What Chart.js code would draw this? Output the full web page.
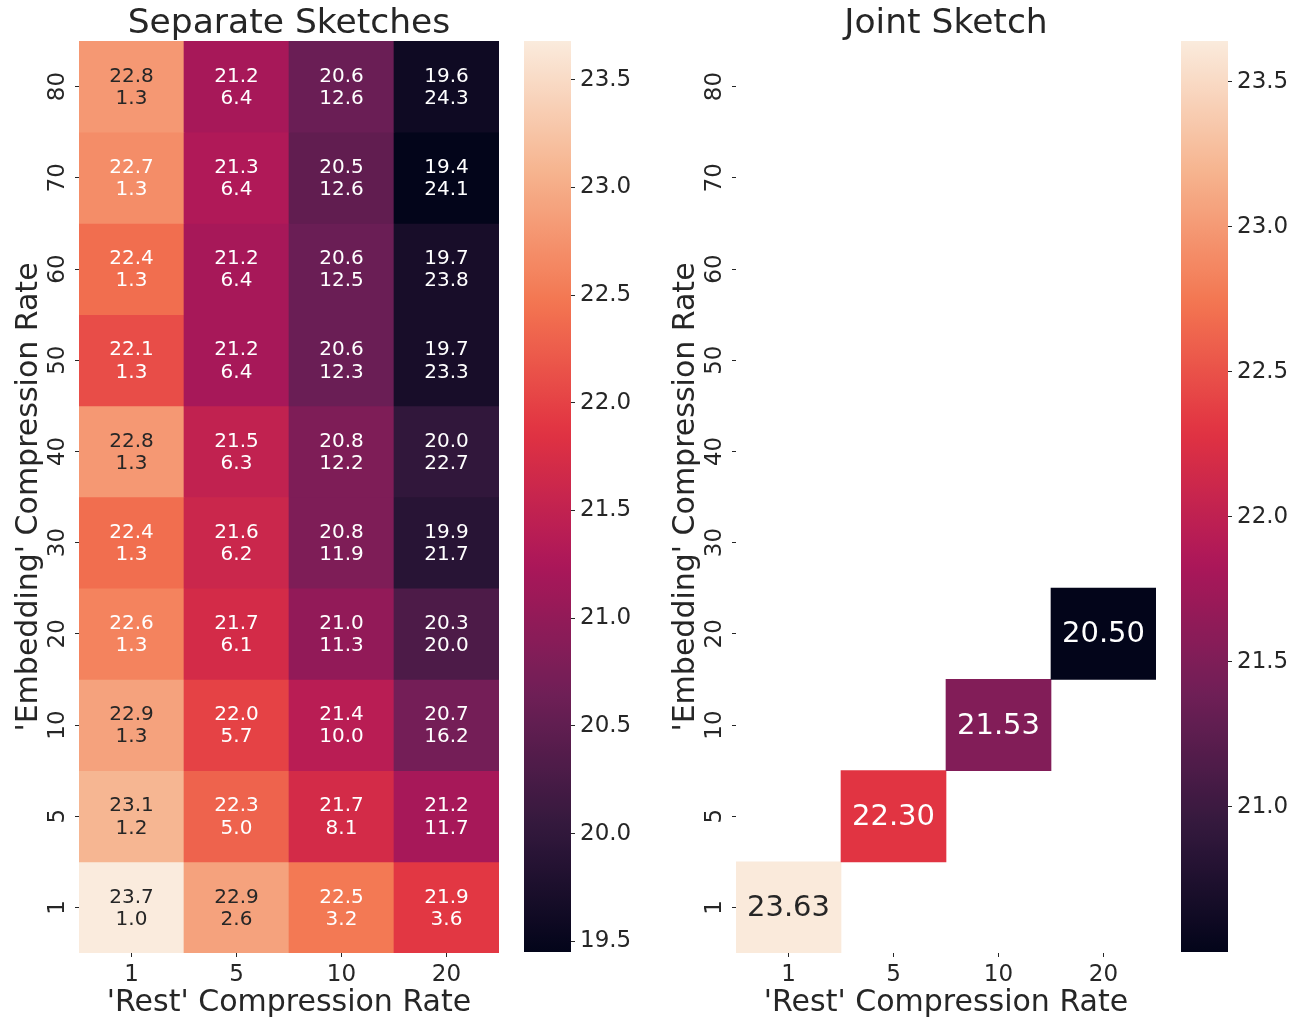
<!DOCTYPE html>
<html><head><meta charset="utf-8">
<script src="https://cdn.jsdelivr.net/npm/chart.js@4.4.1/dist/chart.umd.min.js"></script>
<style>
html,body{margin:0;padding:0;background:#fff;}
body{width:1304px;height:1021px;position:relative;overflow:hidden;}
.box{position:absolute;top:0;}
canvas{display:block;}
</style></head><body>
<div class="box" style="left:0;width:520px;height:1021px"><canvas id="sep" width="520" height="1021"></canvas></div>
<div class="box" style="left:524px;width:120px;height:1021px"><canvas id="sepBar" width="120" height="1021"></canvas></div>
<div class="box" style="left:657px;width:520px;height:1021px"><canvas id="joint" width="520" height="1021"></canvas></div>
<div class="box" style="left:1181px;width:120px;height:1021px"><canvas id="jointBar" width="120" height="1021"></canvas></div>
<script>
// ---------------- data ----------------
const embRates = ['80','70','60','50','40','30','20','10','5','1'];   // rows, top to bottom
const restRates = ['1','5','10','20'];                                   // columns
const sepScore = [
  [22.8, 21.2, 20.6, 19.6],
  [22.7, 21.3, 20.5, 19.4],
  [22.4, 21.2, 20.6, 19.7],
  [22.1, 21.2, 20.6, 19.7],
  [22.8, 21.5, 20.8, 20.0],
  [22.4, 21.6, 20.8, 19.9],
  [22.6, 21.7, 21.0, 20.3],
  [22.9, 22.0, 21.4, 20.7],
  [23.1, 22.3, 21.7, 21.2],
  [23.7, 22.9, 22.5, 21.9]
];
const sepSize = [
  [1.3, 6.4, 12.6, 24.3],
  [1.3, 6.4, 12.6, 24.1],
  [1.3, 6.4, 12.5, 23.8],
  [1.3, 6.4, 12.3, 23.3],
  [1.3, 6.3, 12.2, 22.7],
  [1.3, 6.2, 11.9, 21.7],
  [1.3, 6.1, 11.3, 20.0],
  [1.3, 5.7, 10.0, 16.2],
  [1.2, 5.0, 8.1, 11.7],
  [1.0, 2.6, 3.2, 3.6]
];
const jointScore = [
  [null, null, null, null],
  [null, null, null, null],
  [null, null, null, null],
  [null, null, null, null],
  [null, null, null, null],
  [null, null, null, null],
  [null, null, null, 20.50],
  [null, null, 21.53, null],
  [null, 22.30, null, null],
  [23.63, null, null, null]
];
const sepRange = [19.45, 23.68];
const jointRange = [20.50, 23.64];
const titles = ['Separate Sketches', 'Joint Sketch'];
const xTitle = "'Rest' Compression Rate";
const yTitle = "'Embedding' Compression Rate";

// ---------------- style ----------------
const FONT = '"DejaVu Sans", "Liberation Sans", sans-serif';
const TXT = '#262626';
const rocketStops = ['#03051A','#35193E','#701F57','#AD1759','#E13342','#F37651','#F6B48F','#FAEBDD'];
const stopRGB = rocketStops.map(h => [1,3,5].map(k => parseInt(h.substr(k,2),16)));
function rocketRGB(t) {
  t = Math.max(0, Math.min(1, t));
  const p = t * (stopRGB.length - 1);
  const i = Math.min(Math.floor(p), stopRGB.length - 2);
  const f = p - i;
  return stopRGB[i].map((c, k) => Math.round(c + (stopRGB[i+1][k] - c) * f));
}
function rgbStr(c) { return `rgb(${c[0]},${c[1]},${c[2]})`; }
function lum(c) {
  const l = c.map(v => { v /= 255; return v <= 0.03928 ? v / 12.92 : Math.pow((v + 0.055) / 1.055, 2.4); });
  return 0.2126*l[0] + 0.7152*l[1] + 0.0722*l[2];
}

function makeAnnot(scores, second, range, size, decimals) {
  return {
    id: 'annot',
    afterDatasetsDraw(chart) {
      const {ctx, scales: {x, y}} = chart;
      const n = scores.length;
      ctx.save();
      ctx.font = `${size}px ${FONT}`;
      ctx.textAlign = 'center';
      ctx.textBaseline = 'alphabetic';
      const cap = 0.729 * size;
      scores.forEach((row, i) => row.forEach((v, j) => {
        if (v == null) return;
        const c = rocketRGB((v - range[0]) / (range[1] - range[0]));
        ctx.fillStyle = lum(c) > 0.408 ? TXT : '#ffffff';
        const cx = x.getPixelForValue(j);
        const cy = y.getPixelForValue(n - 1 - i + 0.5);
        if (second) {
          const sp = size * 1.115;
          ctx.fillText(v.toFixed(decimals), cx, cy - sp / 2 + cap / 2 - 1);
          ctx.fillText(second[i][j].toFixed(1), cx, cy + sp / 2 + cap / 2 - 1);
        } else {
          ctx.fillText(v.toFixed(decimals), cx, cy + cap / 2 - 2);
        }
      }));
      ctx.restore();
    }
  };
}

function heatmap(id, title, scores, second, range, annotSize, decimals) {
  const n = embRates.length;
  const datasets = scores.map((row, i) => ({
    label: embRates[i],
    data: row.map(v => v == null ? null : [n - 1 - i, n - i]),
    backgroundColor: row.map(v => v == null ? 'rgba(0,0,0,0)' : rgbStr(rocketRGB((v - range[0]) / (range[1] - range[0])))),
    borderWidth: 0,
    barPercentage: 1,
    categoryPercentage: 1,
    grouped: false
  }));
  return new Chart(document.getElementById(id), {
    type: 'bar',
    data: {labels: restRates, datasets},
    options: {
      responsive: false, animation: false, devicePixelRatio: 1,
      layout: {padding: {left: 0, right: 21, top: 0, bottom: 0}},
      plugins: {
        legend: {display: false}, tooltip: {enabled: false},
        title: {display: true, text: title, fullSize: false, color: TXT,
                font: {family: FONT, size: 34.5, weight: 'normal', lineHeight: 33 / 34.5}, padding: {top: 8, bottom: 0}}
      },
      scales: {
        x: {
          type: 'category', offset: true,
          grid: {display: true, drawOnChartArea: false, offset: false, tickLength: 4, tickColor: TXT, tickWidth: 1},
          border: {display: false},
          ticks: {color: TXT, font: {family: FONT, size: 23}, padding: 4, maxRotation: 0, minRotation: 0},
          title: {display: true, text: xTitle, color: TXT, font: {family: FONT, size: 30}, padding: {top: 0, bottom: 0}},
          afterFit(s) { s.height = 68; }
        },
        y: {
          type: 'linear', min: 0, max: n,
          afterBuildTicks(s) { s.ticks = embRates.map((_, k) => ({value: k + 0.5})); },
          grid: {display: true, drawOnChartArea: false, tickLength: 4, tickColor: TXT, tickWidth: 1},
          border: {display: false},
          ticks: {color: TXT, font: {family: FONT, size: 23}, padding: 2, minRotation: 90, maxRotation: 90,
                  crossAlign: 'center', callback: (v) => embRates[n - 1 - Math.floor(v)]},
          title: {display: true, text: yTitle, color: TXT, font: {family: FONT, size: 30}, padding: {top: 11, bottom: 0}},
          afterFit(s) { s.width = 79; }
        }
      }
    },
    plugins: [makeAnnot(scores, second, range, annotSize, decimals)]
  });
}

function colorbar(id, range) {
  return new Chart(document.getElementById(id), {
    type: 'bar',
    data: {labels: [''], datasets: [{
      data: [[range[0], range[1]]],
      borderWidth: 0, barPercentage: 1, categoryPercentage: 1,
      backgroundColor(ctx) {
        const chart = ctx.chart;
        const ys = chart.scales.y;
        if (!ys || !chart.chartArea) return '#000';
        const y0 = ys.getPixelForValue(range[0]), y1 = ys.getPixelForValue(range[1]);
        const g = chart.ctx.createLinearGradient(0, y0, 0, y1);
        for (let k = 0; k <= 64; k++) g.addColorStop(k / 64, rgbStr(rocketRGB(k / 64)));
        return g;
      }
    }]},
    options: {
      responsive: false, animation: false, devicePixelRatio: 1,
      layout: {padding: {left: 0, right: 0, top: 41, bottom: 69}},
      plugins: {legend: {display: false}, tooltip: {enabled: false}},
      scales: {
        x: {display: false, offset: true},
        y: {
          type: 'linear', position: 'right', min: range[0], max: range[1],
          afterBuildTicks(s) { s.ticks = s.ticks.filter(t => t.value > range[0] + 1e-6 && t.value < range[1] - 1e-6); },
          grid: {display: true, drawOnChartArea: false, tickLength: 4, tickColor: TXT, tickWidth: 1},
          border: {display: false},
          ticks: {stepSize: 0.5, includeBounds: false, color: TXT, font: {family: FONT, size: 23}, padding: 5,
                  callback: (v) => Number(v).toFixed(1)},
          afterFit(s) { s.width = 73; }
        }
      }
    }
  });
}

heatmap('sep', titles[0], sepScore, sepSize, sepRange, 20, 1);
colorbar('sepBar', sepRange);
heatmap('joint', titles[1], jointScore, null, jointRange, 29, 2);
colorbar('jointBar', jointRange);
</script>
</body></html>
